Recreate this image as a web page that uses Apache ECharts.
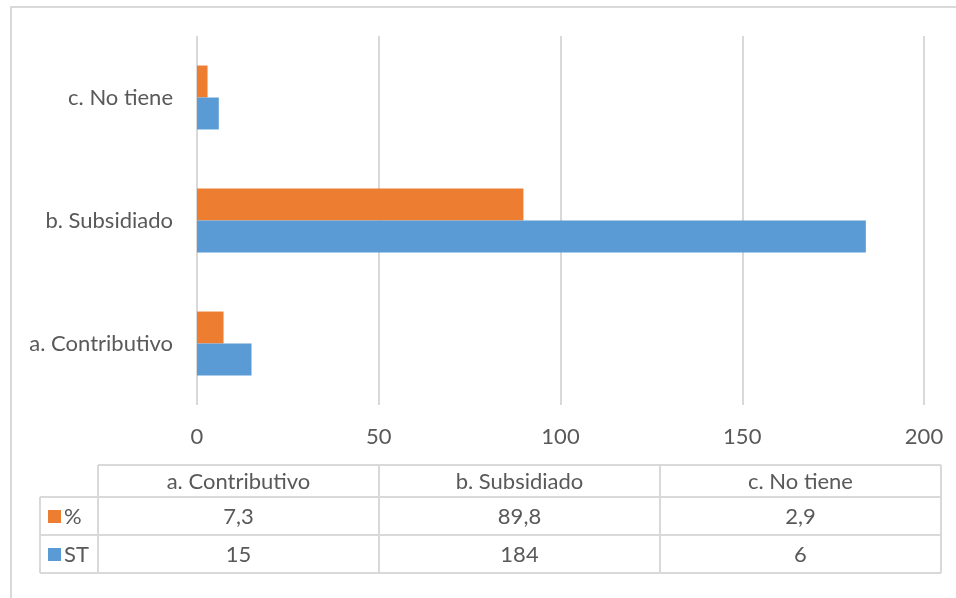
<!DOCTYPE html>
<html>
<head>
<meta charset="utf-8">
<script src="https://cdn.jsdelivr.net/npm/echarts@6/dist/echarts.min.js"></script>
<style>
  html, body { margin: 0; padding: 0; background: #fff; }
  #grafics { width: 956px; height: 598px; }
</style>
</head>
<body>
<div id="grafics"></div>
<script>
  var categories = ['a. Contributivo', 'b. Subsidiado', 'c. No tiene'];
  var seriesNames = ['%', 'ST'];
  var pctValues = [7.3, 89.8, 2.9];
  var stValues = [15, 184, 6];
  var pctLabels = ['7,3', '89,8', '2,9'];
  var stLabels = ['15', '184', '6'];

  var orange = '#ED7D31';
  var blue = '#5B9BD5';
  var gridColor = '#D9D9D9';
  var textColor = '#595959';
  var font = 'Lato';
  var fs = 22;

  var dom = document.getElementById('grafics');
  var myChart = echarts.init(dom, null, { renderer: 'canvas' });

  // data table under the chart
  var tLeft = 40, tCol0 = 98, tColW = 281, tTop = 465, tHeadH = 32, tRowH = 38;
  var lineStyle = { stroke: gridColor, lineWidth: 2 };
  var graphics = [];
  // outer frame
  graphics.push({ type: 'rect', shape: { x: 11, y: 7, width: 960, height: 610 },
    style: { fill: null, stroke: gridColor, lineWidth: 2 }, silent: true });

  var tRight = tCol0 + tColW * categories.length;
  var tBottom = tTop + tHeadH + tRowH * 2;
  // horizontal lines
  graphics.push({ type: 'line', shape: { x1: tCol0, y1: tTop, x2: tRight, y2: tTop }, style: lineStyle });
  [tTop + tHeadH, tTop + tHeadH + tRowH, tBottom].forEach(function (y) {
    graphics.push({ type: 'line', shape: { x1: tLeft, y1: y, x2: tRight, y2: y }, style: lineStyle });
  });
  // vertical lines
  graphics.push({ type: 'line', shape: { x1: tLeft, y1: tTop + tHeadH, x2: tLeft, y2: tBottom }, style: lineStyle });
  for (var c = 0; c <= categories.length; c++) {
    var x = tCol0 + tColW * c;
    graphics.push({ type: 'line', shape: { x1: x, y1: tTop, x2: x, y2: tBottom }, style: lineStyle });
  }
  var rows = [pctLabels, stLabels];
  var rowColors = [orange, blue];
  categories.forEach(function (name, i) {
    graphics.push({ type: 'text', x: tCol0 + tColW * i + tColW / 2, y: tTop + tHeadH / 2 + 1,
      style: { text: name, fill: textColor, font: fs + 'px ' + font, align: 'center', verticalAlign: 'middle' } });
  });
  rows.forEach(function (row, r) {
    var cy = tTop + tHeadH + tRowH * r + tRowH / 2;
    graphics.push({ type: 'rect', shape: { x: 48, y: cy - 6, width: 13, height: 13 }, style: { fill: rowColors[r] } });
    graphics.push({ type: 'text', x: 64, y: cy + 1,
      style: { text: seriesNames[r], fill: textColor, font: fs + 'px ' + font, verticalAlign: 'middle' } });
    row.forEach(function (v, i) {
      graphics.push({ type: 'text', x: tCol0 + tColW * i + tColW / 2, y: cy + 1,
        style: { text: v, fill: textColor, font: fs + 'px ' + font, align: 'center', verticalAlign: 'middle' } });
    });
  });

  var option = {
    animation: false,
    textStyle: { fontFamily: font },
    grid: { left: 197, right: 32, top: 36, bottom: 193 },
    xAxis: {
      type: 'value',
      min: 0, max: 200, interval: 50,
      axisLine: { show: false },
      axisTick: { show: false },
      splitLine: { lineStyle: { color: gridColor, width: 2 } },
      axisLabel: { color: textColor, fontSize: fs, margin: 21, fontFamily: font }
    },
    yAxis: {
      type: 'category',
      data: categories,
      axisLine: { show: false },
      axisTick: { show: false },
      axisLabel: { color: textColor, fontSize: fs, margin: 24, fontFamily: font }
    },
    series: [
      { name: '%', type: 'bar', data: pctValues, itemStyle: { color: orange },
        barGap: '0%', barCategoryGap: '48%' },
      { name: 'ST', type: 'bar', data: stValues, itemStyle: { color: blue } }
    ],
    graphic: graphics
  };

  myChart.setOption(option);
  window.addEventListener('resize', myChart.resize);
</script>
</body>
</html>
